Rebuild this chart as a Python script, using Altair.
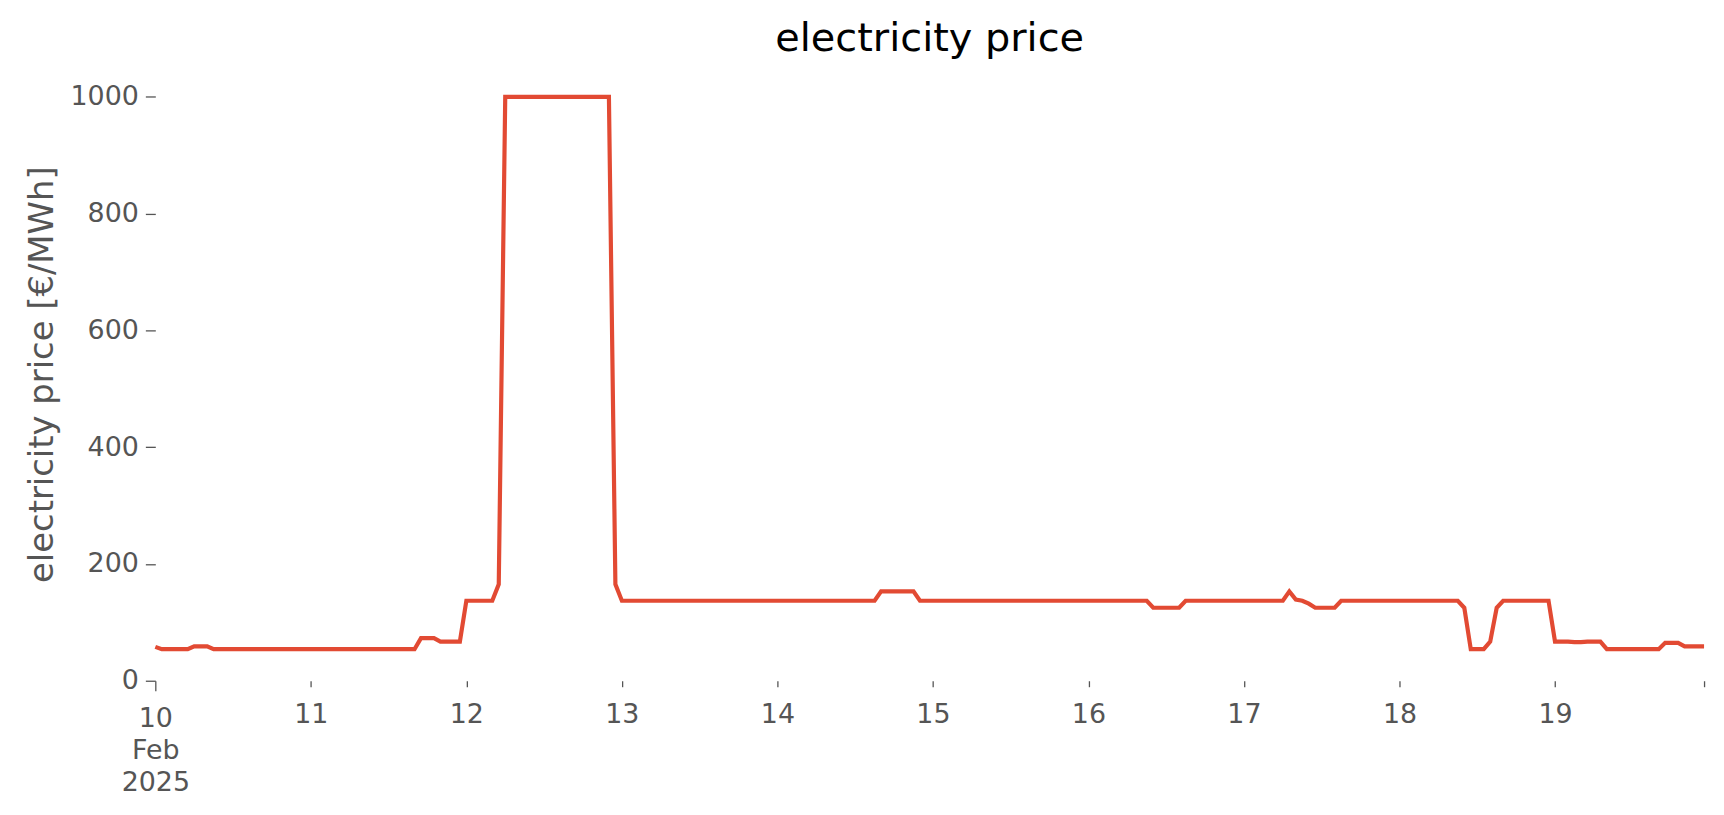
import altair as alt
import pandas as pd

# hourly electricity price [€/MWh], 10 Feb 2025 00:00 .. 19 Feb 2025 23:00
day10 = [58, 54, 54, 54, 54, 54, 59, 59, 59, 54, 54, 54, 54, 54, 54, 54, 54, 54, 54, 54, 54, 54, 54, 54]
day11 = [54, 54, 54, 54, 54, 54, 54, 54, 54, 54, 54, 54, 54, 54, 54, 54, 54, 73, 73, 73, 67, 67, 67, 67]
day12 = [137, 137, 137, 137, 137, 165, 1000, 1000, 1000, 1000, 1000, 1000, 1000, 1000, 1000, 1000, 1000, 1000, 1000, 1000, 1000, 1000, 1000, 165]
day13 = [137, 137, 137, 137, 137, 137, 137, 137, 137, 137, 137, 137, 137, 137, 137, 137, 137, 137, 137, 137, 137, 137, 137, 137]
day14 = [137, 137, 137, 137, 137, 137, 137, 137, 137, 137, 137, 137, 137, 137, 137, 137, 153, 153, 153, 153, 153, 153, 137, 137]
day15 = [137, 137, 137, 137, 137, 137, 137, 137, 137, 137, 137, 137, 137, 137, 137, 137, 137, 137, 137, 137, 137, 137, 137, 137]
day16 = [137, 137, 137, 137, 137, 137, 137, 137, 137, 137, 125, 125, 125, 125, 125, 137, 137, 137, 137, 137, 137, 137, 137, 137]
day17 = [137, 137, 137, 137, 137, 137, 137, 153, 139, 137, 132, 125, 125, 125, 125, 137, 137, 137, 137, 137, 137, 137, 137, 137]
day18 = [137, 137, 137, 137, 137, 137, 137, 137, 137, 137, 125, 54, 54, 54, 67, 125, 137, 137, 137, 137, 137, 137, 137, 137]
day19 = [67, 67, 67, 66, 66, 67, 67, 67, 54, 54, 54, 54, 54, 54, 54, 54, 54, 65, 65, 65, 59, 59, 59, 59]

prices = day10 + day11 + day12 + day13 + day14 + day15 + day16 + day17 + day18 + day19
times = pd.date_range("2025-02-10 00:00", periods=len(prices), freq="h").strftime("%Y-%m-%dT%H:%M:%S")

df = pd.DataFrame({"time": list(times), "price": prices})

tick_dates = [alt.DateTime(year=2025, month=2, date=d) for d in range(10, 20)] + [
    alt.DateTime(year=2025, month=2, date=19, hours=23)
]

FONT = "DejaVu Sans"
GRAY = "#555555"

x_axis = alt.Axis(
    values=tick_dates,
    labelExpr="date(datum.value) == 10 && hours(datum.value) == 0 ? ['10', 'Feb', '2025'] : (hours(datum.value) == 0 ? timeFormat(datum.value, '%d') : '')",
    title=None,
    grid=False,
    domain=False,
    tickColor=GRAY,
    tickWidth=1.3,
    tickSize={"condition": {"test": "date(datum.value) == 10 && hours(datum.value) == 0", "value": 10}, "value": 6},
    labelColor=GRAY,
    labelFont=FONT,
    labelFontSize=27,
    labelPadding=15,
    labelAngle=0,
    labelAlign="center",
    labelBaseline="top",
    labelLineHeight=32,
    labelFlush=False,
    labelOverlap=False,
)

y_axis = alt.Axis(
    values=[0, 200, 400, 600, 800, 1000],
    format="d",
    title="electricity price [€/MWh]",
    titleFont=FONT,
    titleFontSize=34,
    titleFontWeight="normal",
    titleColor=GRAY,
    titlePadding=11,
    grid=False,
    domain=False,
    tickColor=GRAY,
    tickWidth=1.3,
    tickSize=10,
    labelColor=GRAY,
    labelFont=FONT,
    labelFontSize=27,
    labelPadding=7,
    labelFlush=False,
)

chart = (
    alt.Chart(df)
    .mark_line(color="#E24A33", strokeWidth=4.2)
    .encode(
        x=alt.X(
            "time:T",
            axis=x_axis,
            scale=alt.Scale(
                domain=[
                    alt.DateTime(year=2025, month=2, date=10),
                    alt.DateTime(year=2025, month=2, date=19, hours=23),
                ],
                nice=False,
            ),
        ),
        y=alt.Y("price:Q", axis=y_axis, scale=alt.Scale(domain=[0, 1050], nice=False, zero=True)),
    )
    .properties(
        width=1556,
        height=616,
        title=alt.TitleParams(
            "electricity price",
            font=FONT,
            fontSize=40,
            fontWeight="normal",
            color="black",
            anchor="middle",
            offset=9,
        ),
        autosize=alt.AutoSizeParams(type="none"),
        padding={"left": 148, "top": 58, "right": 12, "bottom": 135},
        background="white",
    )
    .configure_view(stroke=None)
)

chart.save("out.html", embed_options={"renderer": "svg", "actions": False})
